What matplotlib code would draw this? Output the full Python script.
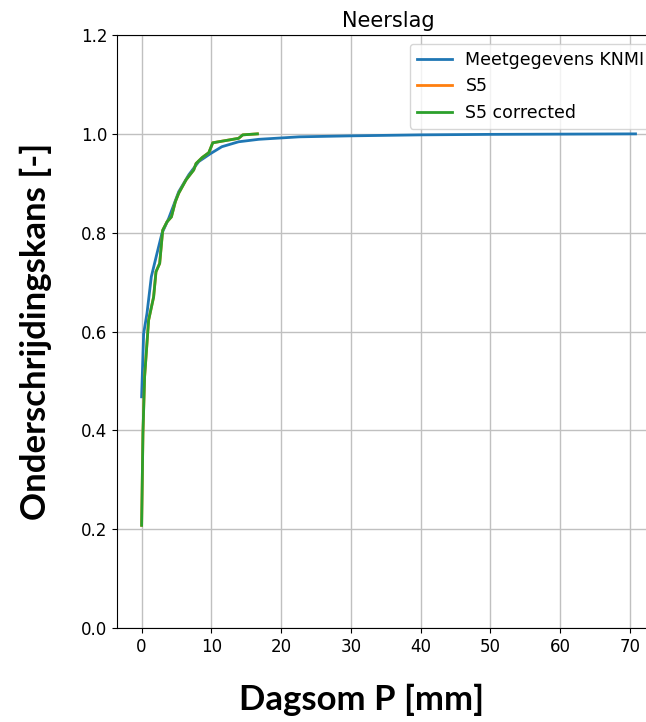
import numpy as np
import matplotlib.pyplot as plt

plt.rcParams['font.family'] = ['DejaVu Sans']

# Meetgegevens KNMI (empirische onderschrijdingskans)
knmi_p = [0.0, 0.29, 0.77, 1.39, 2.2, 2.92, 3.88, 5.32, 6.75, 8.19, 9.87, 11.5,
          13.9, 16.8, 22.6, 30.0, 40.0, 50.0, 60.0, 70.8]
knmi_f = [0.468, 0.596, 0.637, 0.711, 0.758, 0.799, 0.829, 0.883, 0.917, 0.944,
          0.960, 0.974, 0.984, 0.989, 0.994, 0.996, 0.998, 0.999, 0.9995, 1.0]

# S5 en S5 corrected (vallen samen)
s5_p = [0.0, 0.19, 0.43, 1.0, 1.72, 2.06, 2.59, 3.02, 3.64, 4.27, 4.84, 5.32,
        6.37, 7.47, 7.8, 8.67, 9.63, 10.2, 13.9, 14.5, 16.6]
s5_f = [0.208, 0.394, 0.509, 0.623, 0.670, 0.721, 0.738, 0.805, 0.822, 0.832,
        0.863, 0.880, 0.907, 0.927, 0.940, 0.952, 0.962, 0.982, 0.991, 0.998, 1.0]
s5c_p = s5_p
s5c_f = s5_f

fig = plt.figure(figsize=(6.46, 7.22), dpi=100)
ax = fig.add_axes([0.181, 0.130, 0.841, 0.8215])

ax.plot(knmi_p, knmi_f, color='tab:blue', lw=2, label='Meetgegevens KNMI')
ax.plot(s5_p, s5_f, color='tab:orange', lw=2, label='S5')
ax.plot(s5c_p, s5c_f, color='tab:green', lw=2, label='S5 corrected')

ax.set_ylim(0, 1.2)
ax.set_xticks(np.arange(0, 80, 10))
ax.set_yticks(np.arange(0, 1.21, 0.2))
ax.tick_params(labelsize=12)
ax.grid(True, color='#c0c0c0', lw=1)
ax.set_title('Neerslag', fontsize=15)
ax.legend(loc='upper right', fontsize=12.5)

fig.text(362 / 646, 1 - 700 / 722, 'Dagsom P [mm]', family='Lato', weight='bold',
         fontsize=25, ha='center', va='center')
fig.text(36 / 646, 1 - 331 / 722, 'Onderschrijdingskans [-]', family='Lato',
         weight='bold', fontsize=25, ha='center', va='center', rotation=90)

fig.savefig('out.png', dpi=100)
